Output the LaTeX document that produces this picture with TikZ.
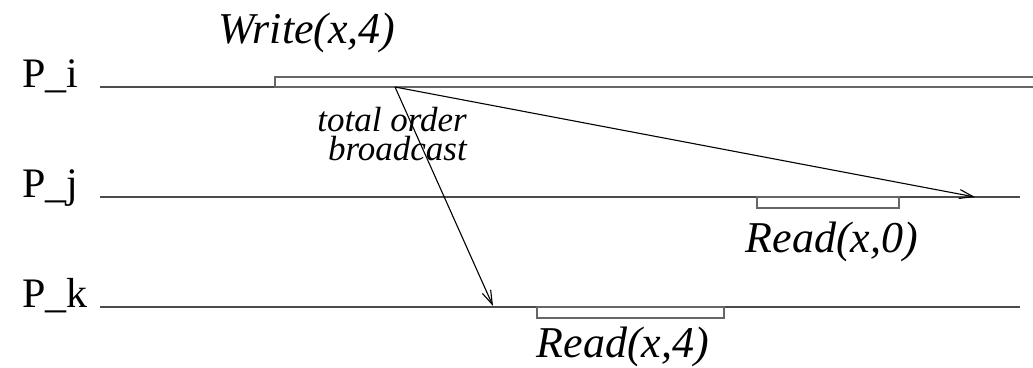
\documentclass[tikz,border=0pt]{standalone}
\usepackage{fontspec}
\setmainfont{Liberation Serif}
\usetikzlibrary{arrows.meta,positioning}

\begin{document}
\begin{tikzpicture}[x=1pt, y=-1pt,
  proc/.style={line width=2pt, draw=black!70},
  opbox/.style={line width=1.5pt, draw=black!60},
  msg/.style={line width=1.1pt, -{Straight Barb[length=14pt,width=9pt,line width=1.1pt]}},
  plabel/.style={anchor=base west, inner sep=0pt, font=\fontsize{42}{42}\selectfont},
  oplabel/.style={anchor=base, inner sep=0pt, font=\fontsize{44}{44}\itshape}]
  \useasboundingbox (0,0) rectangle (1033,367);
  % processes
  \node[plabel] (pi) at (22,87) {P\_i};
  \node[plabel] (pj) at (22,197) {P\_j};
  \node[plabel] (pk) at (22,307) {P\_k};
  \coordinate (pi-end) at (1020,87);
  \coordinate (pj-end) at (1020,197);
  \coordinate (pk-end) at (1020,307);
  \draw[proc] (100,87) -- (pi-end);
  \draw[proc] (100,197) -- (pj-end);
  \draw[proc] (100,307) -- (pk-end);
  % write on P_i
  \draw[opbox] (1040,87) -- (275,87) -- (275,77) -- (1040,77);
  \node[oplabel] (write) at (307,43) {Write(x,4)};
  % reads
  \draw[opbox] (757,197) rectangle (899,208);
  \node[oplabel] (read0) at (832,252) {Read(x,0)};
  \draw[opbox] (537,307) rectangle (724,318);
  \node[oplabel] (read4) at (623,357) {Read(x,4)};
  % messages
  \coordinate (send) at (395,87);
  \coordinate (rcvj) at (975,197);
  \coordinate (rcvk) at (493,306);
  \draw[msg] (send) -- (rcvj);
  \draw[msg] (send) -- (rcvk);
  \node[anchor=base east, align=right, inner sep=0pt,
        font=\fontsize{35}{29}\itshape] (tob) at (467,160) {total order\\broadcast};
\end{tikzpicture}
\end{document}
